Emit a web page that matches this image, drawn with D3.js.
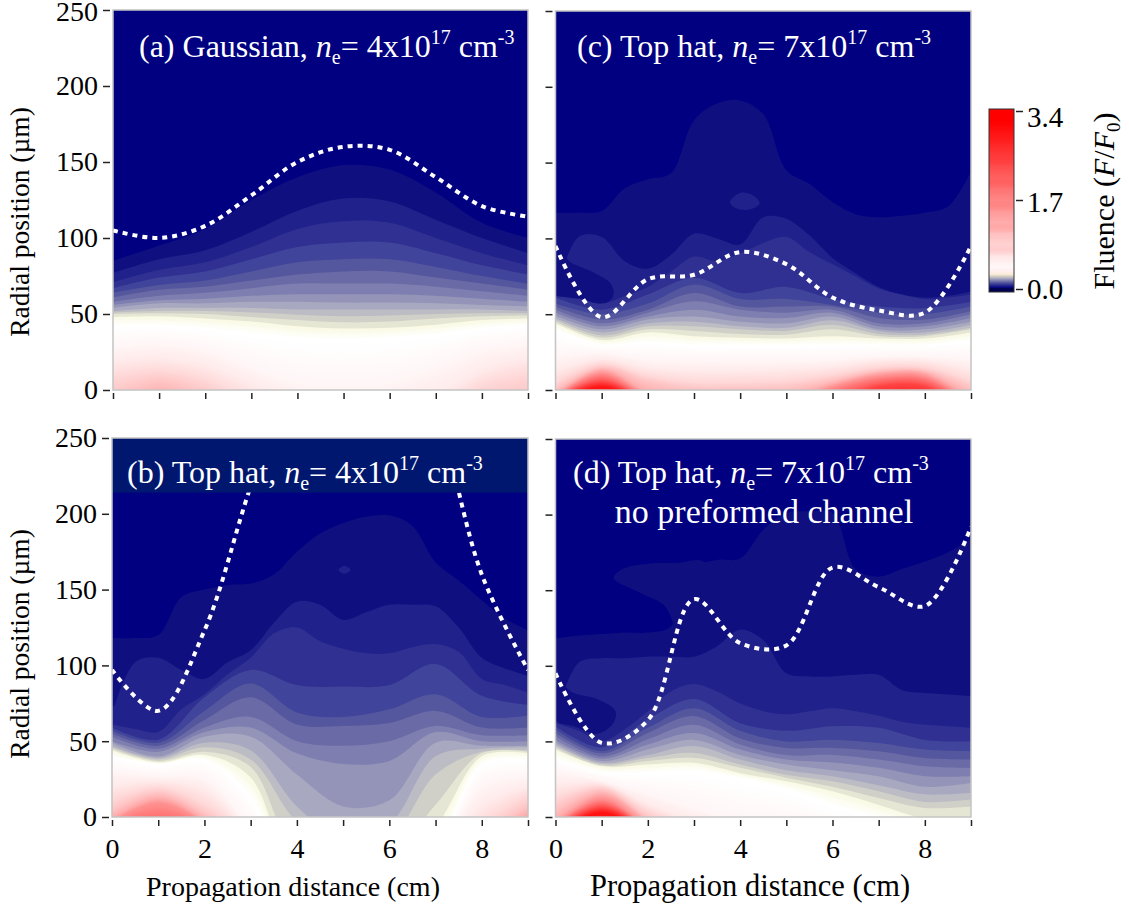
<!DOCTYPE html>
<html><head><meta charset="utf-8">
<script src="https://cdn.jsdelivr.net/npm/d3@7"></script>
<style>html,body{margin:0;padding:0;background:#fff}svg{display:block}text{font-family:"Liberation Serif",serif;fill:#000}</style>
</head><body><svg id="c" width="1129" height="907"></svg>
<script>
// Fluence levels of the stepped low range, then smooth white-to-red levels
const stepFluence=[0.021,0.043,0.064,0.086,0.107,0.129,0.15,0.171,0.193,0.214,0.236,0.257,0.279,0.34];
const stepColors=["#0f0f80","#21218c","#303092","#40449a","#55579e","#6a6aa6","#7e7eb0","#9494b8","#a8a8c0","#bcbcc4","#d0d0c8","#e6e6d4","#fafae6","#ffffff"];
const pinkFluence=[0.45,0.6,0.8,1.0,1.3,1.6,2.0,2.5,3.0];
const xTicks=[0,1,2,3,4,5,6,7,8,9];
const yTicks=[0,50,100,150,200,250];
const barTicks=[0,1.7,3.4];

// Radius (um) of each fluence level along the propagation axis
const contoursA=[
[85,95,106,125,140,148,145,130,110,100],
[77,86,92,104,118,126,124,112,100,90],
[71,79,84,94,106,111,110,100,90,82],
[67,74,78,86,94,97,97,90,82,76],
[64,69,72,78,84,86,86,81,75,70],
[61,66,68,72,76,78,78,74,70,66],
[58,62,64,67,70,70,70,68,65,62],
[56,59,60,62,63,63,63,62,60,58],
[54,57,57,58,58,57.5,57.5,57,56,55],
[52,54,54,54,53,53,53,53,53,52],
[51,52,52,51,49.5,48.5,49,50,50.5,50.5],
[50,50.5,50,48,46,44.5,45,47,48.5,49],
[48,48.5,47,45,42,40.5,41,43,46,47],
[43,43,41,38,35,34,35,37,41,43],
[28,30,26,15,5,3,5,15,26,30],
[18,20,15,3,-10,-12,-10,-5,12,20],
[8,12,6,-10,-20,-20,-20,-15,2,10],
[-3,6,-3,-20,-25,-25,-25,-25,-10,-2],
[-20,-3,-20,-30,-30,-30,-30,-30,-30,-20]];
const contoursB=[
[118,118,120,145,150,153,154,160,175,187,194,198,199,192,168,156,143,131,123],
[68,102,105,97,91,102,110,128,142,140,130,135,140,140,139,125,105,98,93],
[61,58,56,71,81,94,105,121,125,116,111,108,108,112,114,109,91,87,82],
[59,51,79,97,87,86,87,101,80,74],
[57,49,70,88,69,66,71,81,66,67],
[55,47,64,79,61,60,62,70,59,59],
[53,45,59,66,50,47,50,60,54,54],
[50,43,56,59,42,35,37,56,50,50],
[49,40,53,53,28,7,11,49,47,47],
[47,39,49,44,7,-15,-5,40,45,46],
[46,38,46,38,-3,-20,-15,28,43,44],
[45,37,43,33,-25,-30,-25,8,42,43],
[44,36,41,26,-40,-40,-30,-6,40,42],
[40,35,38,14,-50,-50,-35,-20,35,38],
[30,27,25,-8,-50,-50,-40,-25,20,27],
[20,23,17,-12,-50,-50,-40,-30,6,20],
[11,19,8,-15,-50,-50,-40,-30,-5,14],
[5,16,3,-20,-50,-50,-40,-30,-12,8],
[-1,12,-2,-30,-50,-50,-40,-30,-15,2],
[-3,9,-4,-30,-50,-50,-40,-30,-20,-5],
[-6,-1,-7,-30,-50,-50,-40,-30,-25,-15]];
const contoursC=[
[117,117,118,133,139,143,178,189,191,182,145,136,124,116,114,115,117,121,144],
[63,101,101,85,80,89,103,100,96,114,113,102,87,77,68,63,61,62,65],
[62,60,57,62,68,78,88,85,90,97,101,91,83,75,67,63,60,61,63],
[61,53,63,74,64,68,60,55,54,58],
[57,50,57,69.5,60,60,56,51,50,55],
[55,46.5,53,64,55,55,55,47.5,46.5,52],
[53,44,51,58.5,53,51,53,44,44,50],
[51,42,48.5,53,48.5,47.5,51,42,42,47.5],
[49,40,46.5,48.5,45,44,48.5,40,40,45],
[47.5,38,44,45,42,41,46,39,38,43],
[46.5,36,42,42,40,39,43,37,36.5,41],
[45,34.5,40,39,37,36.5,40,35.5,35.5,40],
[44,33,38,35.5,34.5,34,35.5,34,34,38],
[40,30,32,30,30,30,30,30,30,33],
[22,24,20,19,19,19,20,22,22,20],
[12,20,14,12,12,13,15,19,19,13],
[5,17,9,5,5,6,10,15,15,6],
[1,15,6,1,1,2,7,13,13,2],
[-3,13,-1,-6,-6,-5,4,11,11,-5],
[-4,11,-3,-8,-8,-8,2,9,9,-8],
[-5,8,-5,-10,-10,-10,-2,6,6,-10],
[-6,5,-7,-15,-15,-15,-10,2,2,-15],
[-8,2,-9,-20,-20,-20,-20,-8,-8,-20]];
const contoursD=[
[118,120,121,122,122,126,165,170,171,190,201,202,201,164,159,164,169,175,184],
[65,102,105,105,106,106,106,113,124,117,95,93,93,94,94,84,82,81,80],
[62,57,50,58,70,83,88,83,75,70,68,70,72,70,67,63,61,60,59],
[60,46,64.5,78,62,57,60,59,51,50],
[58,43.5,59,72,57,50,51,49,44.6,43.5],
[55.6,42,55.6,66.7,52,45.7,45.7,43.5,39,38],
[53.4,40,51.4,61,48,41,41,38,33.6,32.5],
[51,38.6,48,55.6,44.6,38,36,32.5,27,27],
[49.5,37,44.6,51,41,34.7,31,27,20,22.5],
[48,35.8,41,47,38,31,27,21,15,16],
[47,35,39,42.4,34.7,28,23.6,17,10,11.5],
[45.7,34,37,39,32.5,26,20,12.6,6,7],
[44.6,33.5,34.7,35.8,29,23.6,17,8,-1,-3],
[39,30,30,31,26,19,9,0,-8,-15],
[30,24,15,6,-3,-6,-15,-20,-25,-25],
[20,22,8,-3,-10,-15,-25,-30,-30,-30],
[12,20,4,-8,-20,-30,-30,-30,-30,-30],
[6,18,0,-15,-30,-30,-30,-30,-30,-30],
[-2,15,-3,-25,-30,-30,-30,-30,-30,-30],
[-5,12,-7,-30,-30,-30,-30,-30,-30,-30],
[-6,9,-8,-30,-30,-30,-30,-30,-30,-30],
[-8,6,-9,-30,-30,-30,-30,-30,-30,-30],
[-10,3,-11,-30,-30,-30,-30,-30,-30,-30]];

// Enclosed pockets and islands: [z, r] outlines, band they show, contour they follow
const pocketsA=[];
const pocketsB=[
 {after:1,band:1,pts:[[0,72],[0.4,78],[0.9,70],[1.2,62],[0.9,56],[0.4,58],[0,60]]},
 {after:0,band:1,pts:[[4.9,163],[5.03,165.5],[5.16,163],[5.03,160.5]]}];
const pocketsC=[
 {after:1,band:0,pts:[[0,98],[0.3,85],[0.8,78],[1.2,70],[1.25,62],[1,56],[0.6,60],[0,62]]},
 {after:0,band:1,pts:[[3.78,124],[4.0,130],[4.3,128],[4.42,123],[4.2,119],[3.9,120]]}];
const pocketsD=[
 {after:0,band:0,pts:[[1.26,158],[1.45,164],[2,167.5],[2.6,168],[3.2,169],[3.5,150],[3.1,115],[2.7,115],[2.53,130],[2.35,140],[1.85,148]]},
 {after:1,band:0,pts:[[0,90],[0.4,82],[0.9,78],[1.3,70],[1.25,62],[0.9,55],[0.4,60],[0,64]]}];

// White dashed beam-radius curves
const dashA=[105,100,108,128,150,160,158,140,121,114];
const dashB=[97,70,123,218,300,335,335,270,160,97];
const dashC=[95,48,73,76,91,83,61,52.5,51,95];
const dashD=[95,49,64,144,115,113.5,165,152,139.5,192];

const labelA=[["(a) Gaussian, ",""],["n","i"],["e","sub"],["= 4x10",""],["17","sup"],[" cm",""],["-3","sup"]];
const labelB=[["(b) Top hat, ",""],["n","i"],["e","sub"],["= 4x10",""],["17","sup"],[" cm",""],["-3","sup"]];
const labelC=[["(c) Top hat, ",""],["n","i"],["e","sub"],["= 7x10",""],["17","sup"],[" cm",""],["-3","sup"]];
const labelD=[["(d) Top hat, ",""],["n","i"],["e","sub"],["= 7x10",""],["17","sup"],[" cm",""],["-3","sup"]];

const panels=[
 {id:"a",left:113,right:528,top:10,bottom:390,rows:contoursA,pockets:pocketsA,dash:dashA,label:labelA,lx:139,ly:57,yl:true,xl:false},
 {id:"c",left:555.5,right:971,top:11,bottom:390,rows:contoursC,pockets:pocketsC,dash:dashC,label:labelC,lx:577,ly:57,yl:false,xl:false},
 {id:"b",left:112,right:528,top:438,bottom:817,rows:contoursB,pockets:pocketsB,dash:dashB,label:labelB,lx:127,ly:483,yl:true,xl:true,band:[214,250]},
 {id:"d",left:555.5,right:971,top:439,bottom:817,rows:contoursD,pockets:pocketsD,dash:dashD,label:labelD,lx:573,ly:483,yl:false,xl:true}];

const navy="#000080";
const smooth=d3.scaleLinear().domain([stepFluence[12],stepFluence[13],3.2]).range([stepColors[12],"#ffffff","#ff0000"]).clamp(true);
const svg=d3.select("#c");
const defs=svg.append("defs");

panels.forEach(p=>{
 const x=d3.scaleLinear().domain([0,9]).range([p.left,p.right]);
 const y=d3.scaleLinear().domain([0,250]).range([p.bottom,p.top]);
 defs.append("clipPath").attr("id","clip"+p.id).append("rect").attr("x",p.left).attr("y",p.top).attr("width",p.right-p.left).attr("height",p.bottom-p.top);
 const g=svg.append("g").attr("clip-path",`url(#clip${p.id})`);
 g.append("rect").attr("x",p.left).attr("y",p.top).attr("width",p.right-p.left).attr("height",p.bottom-p.top).attr("fill",navy);
 const area=d3.area().curve(d3.curveCatmullRom.alpha(0.5))
   .x((d,i,a)=>x(i*9/(a.length-1))).y0(y(-60)).y1(d=>y(d));
 const outline=d3.line().curve(d3.curveCatmullRomClosed.alpha(0.5)).x(d=>x(d[0])).y(d=>y(d[1]));
 const drawPockets=k=>p.pockets.filter(q=>q.after===k).forEach(q=>{
   g.append("path").attr("d",outline(q.pts)).attr("fill",q.band<0?navy:stepColors[q.band]);
 });
 const allF=stepFluence.concat(pinkFluence);
 p.rows.forEach((row,k)=>{
   if(k<13){
     g.append("path").attr("d",area(row)).attr("fill",stepColors[k]);
     drawPockets(k);
   }
   if(k>=13){
     // fine steps from the previous level up to this one render the smooth gradient
     const prev=p.rows[k-1], f0=allF[k-1], f1=allF[k], n=k===13?4:7;
     d3.range(1,n+1).forEach(j=>{
       const t=j/n;
       g.append("path").attr("d",area(row.map((d,i)=>prev[i]+(d-prev[i])*t))).attr("fill",smooth(f0+(f1-f0)*t));
     });
   }
 });
 // dashed curve
 g.append("path").attr("d",d3.line().curve(d3.curveCatmullRom.alpha(0.5)).x((d,i)=>x(i)).y(d=>y(d))(p.dash))
  .attr("fill","none").attr("stroke","#fff").attr("stroke-width",4).attr("stroke-dasharray","5 5");
 if(p.band){
   g.append("rect").attr("x",p.left).attr("y",y(p.band[1])).attr("width",p.right-p.left).attr("height",y(p.band[0])-y(p.band[1])).attr("fill","#00176f");
 }
 // frame
 svg.append("rect").attr("x",p.left).attr("y",p.top).attr("width",p.right-p.left).attr("height",p.bottom-p.top).attr("fill","none").attr("stroke","#c4c4c4").attr("stroke-width",1.5);
 // axes
 const ax=svg.append("g").attr("transform",`translate(${p.left-3},0)`).call(d3.axisLeft(y).tickValues(yTicks).tickSize(7).tickPadding(5).tickFormat(p.yl?d3.format("d"):""));
 const bx=svg.append("g").attr("transform",`translate(0,${p.bottom+3})`).call(d3.axisBottom(x).tickValues(xTicks).tickSize(6).tickPadding(12).tickFormat(p.xl?(d=>d%2===0?d:""):""));
 [ax,bx].forEach(s=>{s.select(".domain").remove();s.selectAll("line").attr("stroke","#222").attr("stroke-width",1.5);
   s.selectAll("text").attr("font-size",28).style("font-family",'"Liberation Serif",serif').attr("fill","#000");});
 ax.selectAll("text").filter(d=>d===250&&p.top<20).attr("dy","0.38em");
 // panel label
 const t=svg.append("text").attr("x",p.lx).attr("y",p.ly).attr("font-size",32).style("fill","#fff");
 let shift=0;
 p.label.forEach(([s,k])=>{
   const want=k==="sub"?7:k==="sup"?-13:0;
   const ts=t.append("tspan").text(s).attr("dy",want-shift).style("fill","#fff").style("white-space","pre");
   shift=want;
   if(k==="i") ts.attr("font-style","italic");
   if(k==="sub"||k==="sup") ts.attr("font-size",20);
 });
});
svg.append("text").attr("x",764).attr("y",523).attr("text-anchor","middle").attr("font-size",34).style("fill","#fff").text("no preformed channel");

// axis titles
[[293,28,"Propagation distance (cm)"],[750,30.5,"Propagation distance (cm)"]].forEach(([cx,fs,s])=>{
 svg.append("text").attr("x",cx).attr("y",896).attr("text-anchor","middle").attr("font-size",fs).text(s);
});
[[222,"Radial position (µm)"],[644,"Radial position (µm)"]].forEach(([cy,s])=>{
 svg.append("text").attr("transform",`translate(29,${cy}) rotate(-90)`).attr("text-anchor","middle").attr("font-size",27.5).text(s);
});

// colour bar
const barY=d3.scaleLinear().domain([0,3.4]).range([289,111]);
const bar=svg.append("g");
const barCol=f=>{
 if(f<stepFluence[0]) return navy;
 if(f>=stepFluence[12]) return smooth(f);
 return stepColors[d3.bisectRight(stepFluence,f)-1];
};
bar.append("rect").attr("x",989).attr("y",109).attr("width",25).attr("height",183).attr("fill","#ff0000");
d3.range(0,3.42,0.02).forEach(f=>{
 bar.append("rect").attr("x",989).attr("y",barY(f+0.02)).attr("width",25).attr("height",barY(f)-barY(f+0.02)+0.5).attr("fill",barCol(f));
});
bar.append("rect").attr("x",989).attr("y",288).attr("width",25).attr("height",4).attr("fill","#000050");
bar.append("rect").attr("x",989).attr("y",109).attr("width",25).attr("height",183).attr("fill","none").attr("stroke","#333").attr("stroke-width",1);
const barAxis=svg.append("g").attr("transform","translate(1016,0)").call(d3.axisRight(barY).tickValues(barTicks).tickSize(7).tickPadding(4).tickFormat(d3.format(".1f")));
barAxis.select(".domain").remove();
barAxis.selectAll("line").attr("stroke","#222").attr("stroke-width",1.5);
barAxis.selectAll("text").attr("font-size",29).style("font-family",'"Liberation Serif",serif').attr("fill","#000")
  .attr("dy",d=>d===3.4?"0.52em":d===1.7?"0.39em":"0.32em");
const tt=svg.append("text").attr("transform","translate(1114,201) rotate(-90)").attr("text-anchor","middle").attr("font-size",30);
tt.append("tspan").text("Fluence (");
tt.append("tspan").text("F").attr("font-style","italic");
tt.append("tspan").text("/");
tt.append("tspan").text("F").attr("font-style","italic");
tt.append("tspan").text("0").attr("font-size",19).attr("dy",6);
tt.append("tspan").text(")").attr("dy",-6);
</script></body></html>
